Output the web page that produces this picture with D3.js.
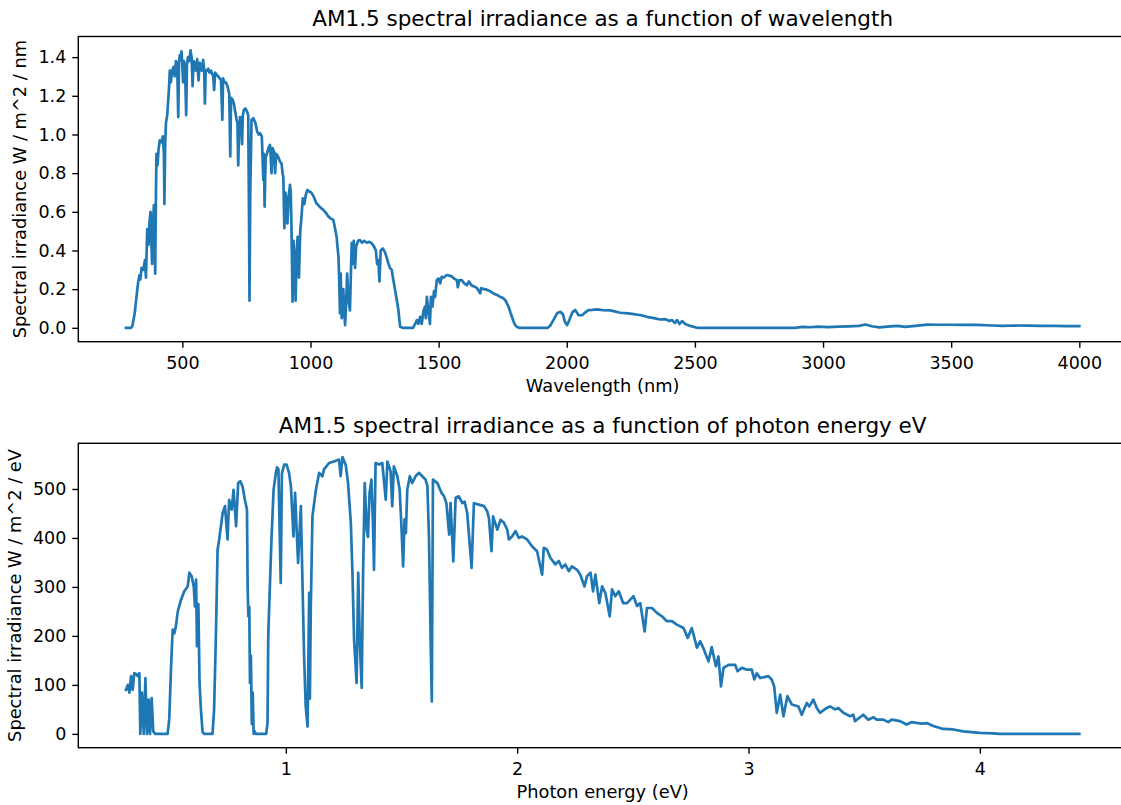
<!DOCTYPE html>
<html>
<head>
<meta charset="UTF-8">
<title>AM1.5 spectrum</title>
<script src="https://d3js.org/d3.v7.min.js"></script>
<style>
  body { margin: 0; background: #fff; }
  svg { display: block; font-family: "DejaVu Sans", sans-serif; }
  .axis path, .axis line { stroke: #000; stroke-width: 1.4px; }
  .axis text { font-size: 17.5px; fill: #000; font-family: "DejaVu Sans", sans-serif; }
</style>
</head>
<body>
<svg id="chart" width="1121" height="805"></svg>
<script>
// wavelength (nm) and irradiance (W / m^2 / nm)
const wavelength = [280,300,305,314,321,327,332,336,341,348,354,358,363,368,372,376,379,382,386,389,392,394,397,399,403,407,412,418,424,428,430,433,436,441,445,448,451,455,460,466,470,475,480,484,487,490,494,497,500,503,506,510,515,518,522,527,532,536,540,544,548,553,558,563,568,572,576,581,585,588,591,596,601,606,612,617,620,624,628,633,640,646,651,656,659,664,670,676,683,687,690,696,701,706,712,715,718,721,725,730,733,736,740,746,752,757,760,762,765,770,777,785,792,798,803,810,816,818,821,825,830,836,842,845,848,852,858,862,866,872,878,881,887,891,894,898,902,906,910,915,920,923,926,930,934,938,942,946,950,955,960,965,970,976,982,988,995,1003,1012,1023,1030,1040,1050,1063,1070,1080,1089,1095,1102,1106,1109,1112,1115,1118,1122,1128,1132,1135,1139,1143,1148,1154,1158,1161,1165,1169,1174,1178,1186,1193,1201,1210,1220,1230,1239,1248,1255,1260,1265,1269,1274,1282,1291,1298,1304,1310,1317,1323,1330,1336,1343,1347,1350,1360,1400,1408,1415,1421,1428,1434,1441,1447,1450,1454,1460,1466,1470,1476,1482,1486,1493,1500,1506,1512,1520,1532,1542,1552,1560,1571,1575,1580,1590,1600,1610,1618,1628,1640,1650,1662,1666,1678,1690,1700,1714,1728,1740,1750,1760,1767,1773,1780,1786,1793,1799,1806,1815,1925,1935,1950,1962,1975,1985,1993,2001,2010,2022,2033,2046,2060,2072,2085,2100,2118,2140,2170,2209,2240,2261,2290,2313,2340,2365,2385,2400,2410,2422,2430,2440,2450,2462,2482,2508,2600,2890,2920,2950,2980,3020,3060,3100,3140,3166,3190,3220,3250,3290,3320,3360,3407,3450,3500,3550,3600,3660,3700,3750,3800,3850,3900,3950,4000];
const irradianceNm = [0,0,0.01,0.075,0.16,0.23,0.27,0.25,0.31,0.30,0.35,0.26,0.51,0.43,0.55,0.60,0.45,0.33,0.55,0.635,0.45,0.28,0.70,0.90,0.84,0.92,0.97,0.96,0.99,0.90,0.64,0.95,1.06,1.10,1.18,1.24,1.33,1.27,1.33,1.35,1.30,1.38,1.36,1.09,1.37,1.41,1.39,1.43,1.35,1.27,1.38,1.36,1.10,1.36,1.40,1.38,1.435,1.40,1.25,1.38,1.37,1.33,1.39,1.28,1.37,1.35,1.33,1.386,1.34,1.16,1.33,1.33,1.34,1.32,1.33,1.31,1.31,1.23,1.32,1.31,1.30,1.29,1.28,1.076,1.29,1.27,1.27,1.25,1.21,0.886,1.19,1.18,1.16,1.12,1.075,1.06,0.84,1.00,1.09,1.06,0.95,1.10,1.127,1.135,1.12,1.10,0.60,0.14,0.70,1.076,1.084,1.06,1.015,1.00,1.007,0.99,0.765,0.90,0.627,0.88,0.90,0.93,0.946,0.88,0.80,0.93,0.91,0.80,0.90,0.89,0.87,0.86,0.85,0.80,0.78,0.515,0.70,0.66,0.54,0.68,0.74,0.70,0.51,0.135,0.45,0.30,0.14,0.40,0.47,0.26,0.50,0.575,0.67,0.64,0.69,0.713,0.705,0.70,0.68,0.644,0.635,0.62,0.61,0.59,0.575,0.565,0.558,0.52,0.47,0.41,0.37,0.25,0.075,0.28,0.05,0.20,0.08,0.014,0.12,0.28,0.15,0.09,0.30,0.44,0.33,0.45,0.31,0.42,0.45,0.454,0.44,0.45,0.44,0.445,0.437,0.42,0.40,0.33,0.35,0.24,0.40,0.41,0.39,0.36,0.333,0.31,0.30,0.25,0.195,0.15,0.092,0.04,0.005,0,0,0.02,0.04,0.02,0.057,0.02,0.09,0.11,0.05,0.16,0.09,0.02,0.16,0.11,0.19,0.16,0.247,0.255,0.23,0.264,0.26,0.273,0.27,0.265,0.255,0.247,0.21,0.245,0.247,0.23,0.22,0.24,0.22,0.213,0.205,0.178,0.205,0.20,0.196,0.19,0.178,0.17,0.16,0.155,0.143,0.125,0.109,0.08,0.057,0.03,0.014,0.004,0,0,0.01,0.045,0.075,0.083,0.07,0.03,0.014,0.04,0.08,0.092,0.065,0.065,0.08,0.092,0.093,0.095,0.092,0.09,0.078,0.075,0.071,0.065,0.057,0.05,0.043,0.045,0.035,0.04,0.025,0.04,0.02,0.035,0.02,0.01,0,0,0,0.005,0.003,0.006,0.004,0.006,0.008,0.01,0.017,0.008,0.002,0.006,0.01,0.005,0.01,0.017,0.016,0.016,0.015,0.015,0.012,0.01,0.012,0.011,0.01,0.01,0.009,0.009];

// photon energy (eV) and irradiance (W / m^2 / eV)
const energy = [0.309,0.317,0.324,0.331,0.338,0.345,0.353,0.36,0.367,0.371,0.378,0.386,0.393,0.40,0.407,0.413,0.42,0.427,0.435,0.489,0.496,0.504,0.511,0.518,0.525,0.533,0.547,0.561,0.576,0.583,0.593,0.602,0.607,0.612,0.616,0.622,0.627,0.633,0.64,0.647,0.683,0.69,0.698,0.705,0.712,0.727,0.737,0.748,0.755,0.766,0.774,0.785,0.794,0.803,0.813,0.823,0.832,0.835,0.838,0.842,0.845,0.849,0.853,0.857,0.861,0.866,0.870,0.915,0.921,0.924,0.932,0.938,0.947,0.957,0.962,0.968,0.978,0.983,0.993,1.003,1.014,1.022,1.033,1.040,1.053,1.065,1.072,1.079,1.086,1.094,1.101,1.104,1.108,1.115,1.13,1.144,1.158,1.165,1.187,1.208,1.23,1.237,1.245,1.259,1.269,1.281,1.288,1.295,1.306,1.313,1.320,1.328,1.334,1.341,1.350,1.355,1.362,1.370,1.377,1.381,1.388,1.403,1.417,1.432,1.439,1.453,1.46,1.467,1.482,1.492,1.499,1.507,1.513,1.519,1.525,1.536,1.546,1.561,1.575,1.59,1.604,1.612,1.619,1.626,1.631,1.636,1.655,1.673,1.684,1.694,1.706,1.712,1.724,1.734,1.748,1.763,1.773,1.784,1.803,1.813,1.842,1.857,1.871,1.878,1.889,1.896,1.914,1.928,1.943,1.957,1.964,1.978,1.993,2.007,2.021,2.043,2.064,2.086,2.108,2.115,2.129,2.144,2.165,2.18,2.194,2.208,2.223,2.237,2.259,2.273,2.291,2.302,2.317,2.328,2.338,2.355,2.367,2.381,2.4,2.41,2.424,2.439,2.458,2.475,2.489,2.503,2.518,2.532,2.551,2.561,2.583,2.604,2.626,2.647,2.669,2.69,2.719,2.737,2.755,2.777,2.791,2.805,2.827,2.841,2.859,2.870,2.881,2.892,2.914,2.942,2.953,2.971,2.993,3.014,3.025,3.036,3.05,3.086,3.1,3.111,3.122,3.137,3.151,3.168,3.187,3.216,3.23,3.252,3.263,3.28,3.295,3.309,3.338,3.352,3.374,3.388,3.41,3.439,3.453,3.46,3.496,3.518,3.54,3.554,3.583,3.604,3.619,3.655,3.683,3.705,3.748,3.77,3.799,3.842,3.885,3.928,4.0,4.058,4.086,4.43];
const irradianceEv = [90,100,84,118,90,124,122,118,124,0,84,0,114,0,70,0,73,5,0,0,29,138,213,205,220,250,274,291,301,329,322,301,260,315,179,265,104,50,4,0,0,50,206,376,397,451,465,397,478,458,498,424,512,516,505,478,458,300,240,260,104,160,20,84,0,5,0,0,23,199,315,397,498,533,544,540,308,531,550,550,533,505,403,492,349,465,308,158,56,15,288,72,261,444,498,533,526,540,553,556,560,526,565,549,512,431,329,192,104,329,184,94,329,512,416,402,492,519,424,335,553,550,553,478,556,536,465,546,526,499,431,342,438,410,499,526,512,526,533,526,519,506,397,192,66,519,512,492,485,471,407,471,352,482,485,471,474,451,339,471,467,465,454,440,373,444,417,437,431,417,397,403,414,400,403,397,383,373,325,380,376,359,346,353,339,346,332,342,335,325,301,322,329,291,325,267,301,288,240,295,281,291,267,267,274,281,261,267,209,257,257,247,240,230,230,223,216,196,216,176,189,175,148,177,138,158,97,135,141,141,128,135,131,131,111,124,114,118,111,97,43,80,36,77,60,56,39,63,56,70,53,43,53,56,50,53,43,36,39,26,39,29,34,29,29,24,29,26,19,24,21,22,16,10,9,5,2,1,0,0];

const xTicksNm = [500,1000,1500,2000,2500,3000,3500,4000];
const yTicksNm = [0,0.2,0.4,0.6,0.8,1.0,1.2,1.4];
const xTicksEv = [1,2,3,4];
const yTicksEv = [0,100,200,300,400,500];

const svg = d3.select('#chart');
svg.append('rect').attr('width', 1121).attr('height', 805).attr('fill', '#fff');

const left = 78.3, right = 1127;

// matplotlib style 5% margins
function padded(ext) {
  const m = (ext[1] - ext[0]) * 0.05;
  return [ext[0] - m, ext[1] + m];
}

function panel(cfg) {
  const { top, bottom, xs, ys, xTicks, yTicks, yFmt, title, xLabel, yLabel, yLabelX, id } = cfg;
  const pts = xs.map((v, i) => [v, ys[i]]);
  const x = d3.scaleLinear().domain(padded(d3.extent(xs))).range([left, right]);
  const y = d3.scaleLinear().domain(padded(d3.extent(ys))).range([bottom, top]);
  const g = svg.append('g');

  g.append('clipPath').attr('id', id).append('rect')
    .attr('x', left).attr('y', top).attr('width', right - left).attr('height', bottom - top);

  g.append('path')
    .datum(pts)
    .attr('clip-path', `url(#${id})`)
    .attr('fill', 'none')
    .attr('stroke', '#1f77b4')
    .attr('stroke-width', 2.7)
    .attr('stroke-linejoin', 'round')
    .attr('stroke-linecap', 'square')
    .attr('d', d3.line().x(d => x(d[0])).y(d => y(d[1])));

  // spines
  g.append('rect')
    .attr('x', left).attr('y', top).attr('width', right - left).attr('height', bottom - top)
    .attr('fill', 'none').attr('stroke', '#000').attr('stroke-width', 1.4);

  const xa = g.append('g').attr('class', 'axis')
    .attr('transform', `translate(0,${bottom})`)
    .call(d3.axisBottom(x).tickValues(xTicks).tickSize(6).tickPadding(8.5).tickFormat(d3.format('d')));
  const ya = g.append('g').attr('class', 'axis')
    .attr('transform', `translate(${left},0)`)
    .call(d3.axisLeft(y).tickValues(yTicks).tickSize(6).tickPadding(6).tickFormat(yFmt));
  xa.select('.domain').remove();
  ya.select('.domain').remove();

  g.append('text')
    .attr('x', (left + right) / 2).attr('y', top - 10.4)
    .attr('text-anchor', 'middle')
    .attr('font-size', 21.5)
    .text(title);

  g.append('text')
    .attr('x', (left + right) / 2).attr('y', bottom + 50.5)
    .attr('text-anchor', 'middle')
    .attr('font-size', 17.8)
    .text(xLabel);

  g.append('text')
    .attr('transform', `translate(${yLabelX},${(top + bottom) / 2}) rotate(-90)`)
    .attr('text-anchor', 'middle')
    .attr('font-size', 17.8)
    .text(yLabel);
}

panel({
  id: 'clipTop', top: 36.5, bottom: 341.7,
  xs: wavelength, ys: irradianceNm,
  xTicks: xTicksNm, yTicks: yTicksNm, yFmt: d3.format('.1f'),
  title: 'AM1.5 spectral irradiance as a function of wavelength',
  xLabel: 'Wavelength (nm)',
  yLabel: 'Spectral irradiance W / m^2 / nm',
  yLabelX: 26
});

panel({
  id: 'clipBottom', top: 443.3, bottom: 747.7,
  xs: energy, ys: irradianceEv,
  xTicks: xTicksEv, yTicks: yTicksEv, yFmt: d3.format('d'),
  title: 'AM1.5 spectral irradiance as a function of photon energy eV',
  xLabel: 'Photon energy (eV)',
  yLabel: 'Spectral irradiance W / m^2 / eV',
  yLabelX: 21
});
</script>
</body>
</html>
